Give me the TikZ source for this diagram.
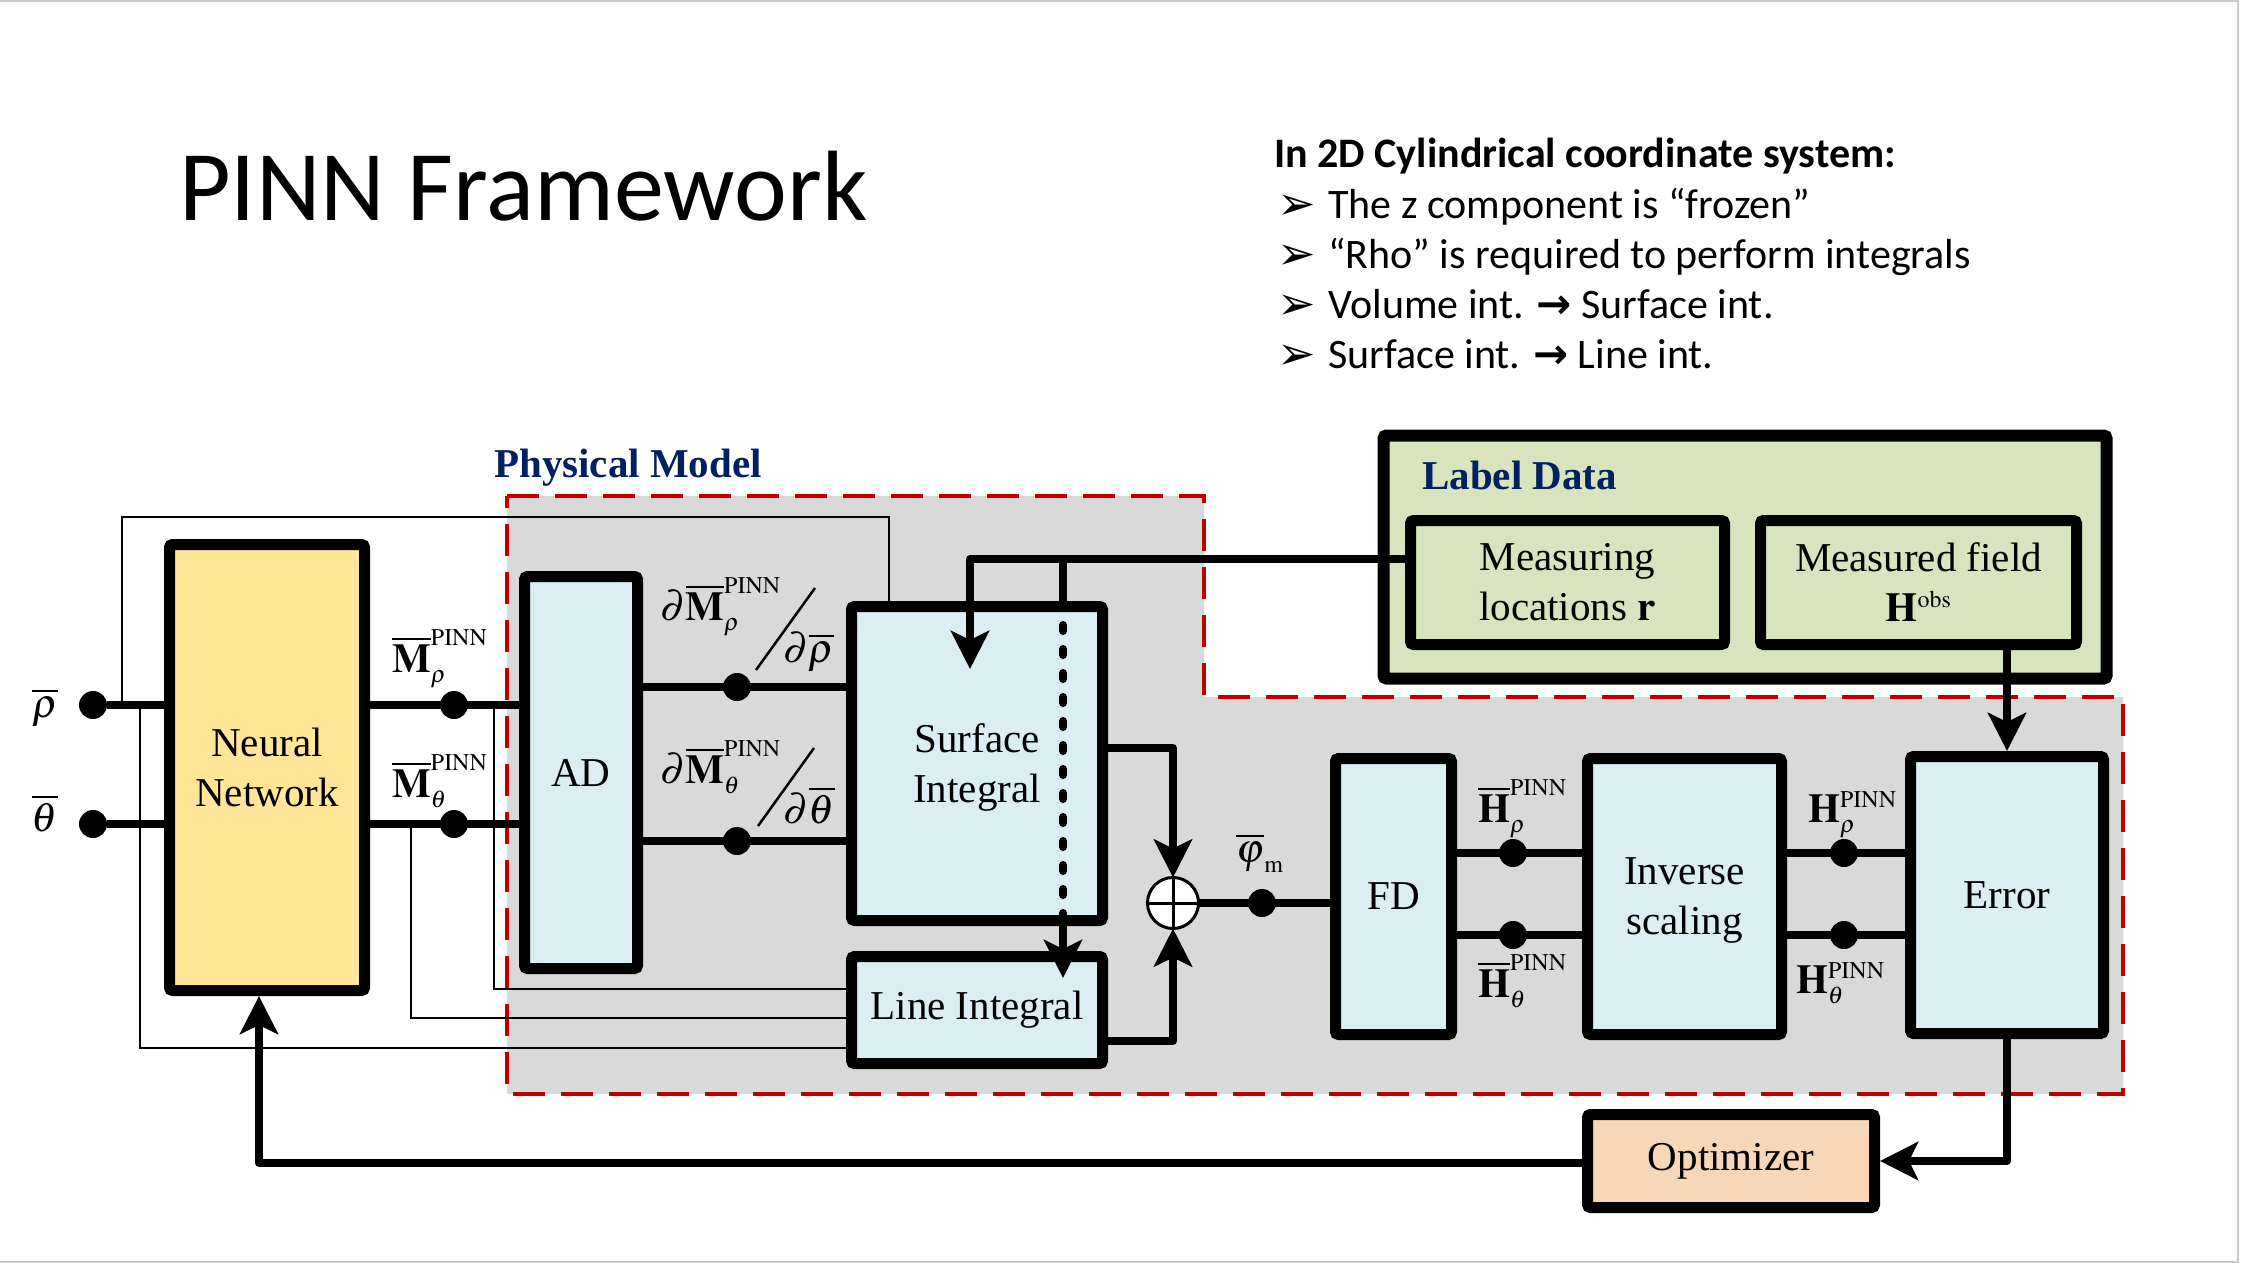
\documentclass[tikz,border=0pt]{standalone}
\usepackage{mathptmx}
\usepackage{fontspec}
\setmainfont{Liberation Serif}
\newfontfamily\slidefont{Carlito}
\newfontfamily\symbfont{DejaVu Sans}
\usepackage{tikz}
\usetikzlibrary{arrows.meta}
\usetikzlibrary{backgrounds}
\DeclareMathSizes{41}{41}{24}{17}
\definecolor{nnyellow}{RGB}{255,230,153}
\definecolor{boxblue}{RGB}{218,238,243}
\definecolor{regiongray}{RGB}{217,217,217}
\definecolor{labelgreen}{RGB}{215,228,189}
\definecolor{optpeach}{RGB}{248,214,184}
\definecolor{darknavy}{RGB}{0,32,96}
\definecolor{dashred}{RGB}{192,0,0}
\newcommand{\boxfont}{\fontsize{41}{50}\selectfont}
\newcommand{\bulletmark}{\makebox[51pt][l]{\raisebox{-1pt}{\fontsize{46}{46}\symbfont ➢}}}
\newcommand{\intarrow}{{\fontsize{42}{42}\symbfont\bfseries →}}

\begin{document}
\begin{tikzpicture}[x=1pt,y=1pt,yscale=-1,xscale=1,
  >={Stealth[length=38pt,width=38pt,inset=9pt]},
  blk/.style={draw, line width=11pt, rounded corners=3pt, align=center, inner sep=0pt, font=\boxfont},
  conn/.style={line width=8pt, line join=round},
  dotline/.style={line width=8pt, line cap=round, dash pattern=on 6pt off 18pt},
  wire/.style={line width=2.2pt},
  dot/.style={circle, fill, inner sep=0pt, minimum size=28pt},
  lbl/.style={anchor=base west, inner sep=0pt, font=\boxfont},
  bul/.style={anchor=base west, inner sep=0pt, font=\fontsize{42}{50}\slidefont}]
  \useasboundingbox (0,0) rectangle (2241,1263);
  % slide frame
  \draw[black!20, line width=2pt] (0,1) -- (2238,1) -- (2238,1262) -- (0,1262);

  % Text Node
  \node[anchor=base west, inner sep=0pt, font=\fontsize{100}{120}\slidefont] (title) at (179,220) {PINN Framework};
  % Text Node
  \node[bul, font=\fontsize{42}{50}\slidefont\bfseries] (bhead) at (1274,167) {In 2D Cylindrical coordinate system:};
  \node[bul] (b1) at (1277,218) {\bulletmark The z component is “frozen”};
  \node[bul] (b2) at (1277,268) {\bulletmark “Rho” is required to perform integrals};
  \node[bul] (b3) at (1277,318) {\bulletmark Volume int. \intarrow\ Surface int.};
  \node[bul] (b4) at (1277,368) {\bulletmark Surface int. \intarrow\ Line int.};

  % Blocks
  \node[blk, fill=nnyellow, minimum width=195pt, minimum height=446pt] (nn) at (267,767.5) {Neural\\Network};
  \node[blk, fill=boxblue, minimum width=113pt, minimum height=392pt] (ad) at (581,772.5) {AD};
  \node[blk, fill=boxblue, text depth=0pt, minimum width=251pt, minimum height=314pt] (si) at (977,763.5) {Surface\\Integral};
  \node[blk, fill=boxblue, minimum width=251pt, minimum height=107pt] (li) at (977,1010) {Line Integral};
  \node[blk, fill=boxblue, minimum width=116pt, minimum height=276pt] (fd) at (1393.5,896.5) {FD};
  \node[blk, fill=boxblue, text depth=0pt, minimum width=194pt, minimum height=276pt] (is) at (1684.5,896.5) {Inverse\\scaling};
  \node[blk, fill=boxblue, minimum width=193pt, minimum height=277pt] (err) at (2007,895) {Error};
  \node[blk, fill=optpeach, minimum width=287pt, minimum height=93pt] (opt) at (1731,1161) {Optimizer};
  \node[blk, line width=12pt, fill=labelgreen, minimum width=723pt, minimum height=243pt] (ldata) at (1745,557) {};
  \node[blk, fill=labelgreen, minimum width=314pt, minimum height=124pt] (meas) at (1567.5,582.5) {Measuring\\locations $\mathbf{r}$};
  \node[blk, fill=labelgreen, minimum width=316pt, minimum height=124pt] (field) at (1918.5,582.5) {Measured field\\$\mathbf{H}^{\mathrm{obs}}$};
  \node[lbl, font=\boxfont\bfseries, text=darknavy] (ldatalbl) at (1422,489) {Label Data};
  \node[lbl, font=\boxfont\bfseries, text=darknavy] (pmlbl) at (494,477) {Physical Model};

  % Sum junction
  \node[circle, draw, fill=white, line width=3pt, minimum size=51pt, inner sep=0pt, outer sep=0pt] (sum) at (1173,903) {};
  \draw[line width=3pt] (sum.north) -- (sum.south) (sum.west) -- (sum.east);

  % Dots
  \node[dot] (rhoin) at (93,705) {};
  \node[dot] (thetain) at (93,824) {};
  \node[dot] (mrho) at (454,705) {};
  \node[dot] (mtheta) at (454,824) {};
  \node[dot] (dmrho) at (737,687) {};
  \node[dot] (dmtheta) at (737,841) {};
  \node[dot] (phim) at (1262,903) {};
  \node[dot] (hbrho) at (1513,853) {};
  \node[dot] (hbtheta) at (1513,935) {};
  \node[dot] (hrho) at (1844,853) {};
  \node[dot] (htheta) at (1844,935) {};

  % Bends
  \coordinate (wa) at (122,517);
  \coordinate (wb) at (889,517);
  \coordinate (wc) at (140,1048);
  \coordinate (wd) at (411,1018);
  \coordinate (we) at (494,989);
  \coordinate (mloc) at (970,559);
  \coordinate (sitip) at (970,669);
  \coordinate (brx) at (1063,559);
  \coordinate (litip) at (1063,978);
  \coordinate (siout) at (1173,748);
  \coordinate (liout) at (1173,1041);
  \coordinate (fbx) at (259,1163);

  \begin{pgfonlayer}{background}
    % Physical model region
    \draw[dashred, line width=4.5pt, dash pattern=on 32pt off 16pt, fill=regiongray]
      (507,496) -- (1204,496) -- (1204,697) -- (2123,697) -- (2123,1094) -- (507,1094) -- cycle;
    % thin wires
    \draw[wire] (wa |- rhoin) -- (wa) -- (wb) -- (wb |- si.north);
    \draw[wire] (wc |- rhoin) -- (wc) -- (wc -| li.west);
    \draw[wire] (wd |- mtheta) -- (wd) -- (wd -| li.west);
    \draw[wire] (we |- mrho) -- (we) -- (we -| li.west);
  \end{pgfonlayer}

  % Thick connectors
  \draw[conn] (rhoin) -- (rhoin -| nn.west);
  \draw[conn] (thetain) -- (thetain -| nn.west);
  \draw[conn] (mrho -| nn.east) -- (mrho -| ad.west);
  \draw[conn] (mtheta -| nn.east) -- (mtheta -| ad.west);
  \draw[conn] (dmrho -| ad.east) -- (dmrho -| si.west);
  \draw[conn] (dmtheta -| ad.east) -- (dmtheta -| si.west);
  \draw[conn,->] (mloc -| meas.west) -- (mloc) -- (sitip);
  \draw[conn] (brx) -- (brx |- si.north);
  \draw[dotline] (brx |- si.north) -- (brx |- si.south);
  \draw[conn,->] (brx |- si.south) -- (litip);
  \draw[conn,->] (siout -| si.east) -- (siout) -- (sum.north);
  \draw[conn,->] (liout -| li.east) -- (liout) -- (sum.south);
  \draw[conn] (sum.east) -- (sum.east -| fd.west);
  \draw[conn] (hbrho -| fd.east) -- (hbrho -| is.west);
  \draw[conn] (hbtheta -| fd.east) -- (hbtheta -| is.west);
  \draw[conn] (hrho -| is.east) -- (hrho -| err.west);
  \draw[conn] (htheta -| is.east) -- (htheta -| err.west);
  \draw[conn,->] (field.south -| err.north) -- (err.north);
  \draw[conn,->] (err.south) |- (opt.east);
  \draw[conn,->] (opt.west |- fbx) -- (fbx) -- (fbx |- nn.south);

  % Fraction slashes
  \draw[line width=2.5pt] (756,670) -- (815,588);
  \draw[line width=2.5pt] (758,826) -- (814,748);

  % Text Node
  \node[lbl, anchor=base] (rholbl) at (45,717) {$\overline{\rho}$};
  \node[lbl, anchor=base] (thetalbl) at (45,831) {$\overline{\theta}$};
  \node[lbl] (mrholbl) at (392,672) {$\overline{\mathbf{M}}^{\mathrm{PINN}}_{\rho}$};
  \node[lbl] (mthetalbl) at (392,797) {$\overline{\mathbf{M}}^{\mathrm{PINN}}_{\theta}$};
  \node[lbl] (dmrholbl) at (660,620) {$\partial\overline{\mathbf{M}}^{\mathrm{PINN}}_{\rho}$};
  \node[lbl] (drholbl) at (783,662) {$\partial\overline{\rho}$};
  \node[lbl] (dmthetalbl) at (660,783) {$\partial\overline{\mathbf{M}}^{\mathrm{PINN}}_{\theta}$};
  \node[lbl] (dthetalbl) at (783,823) {$\partial\overline{\theta}$};
  \node[lbl] (philbl) at (1236,862) {$\overline{\varphi}_{\mathrm{m}}$};
  \node[lbl] (hbrholbl) at (1478,822) {$\overline{\mathbf{H}}^{\mathrm{PINN}}_{\rho}$};
  \node[lbl] (hbthetalbl) at (1478,997) {$\overline{\mathbf{H}}^{\mathrm{PINN}}_{\theta}$};
  \node[lbl] (hrholbl) at (1808,822) {$\mathbf{H}^{\mathrm{PINN}}_{\rho}$};
  \node[lbl] (hthetalbl) at (1796,993) {$\mathbf{H}^{\mathrm{PINN}}_{\theta}$};
\end{tikzpicture}
\end{document}
